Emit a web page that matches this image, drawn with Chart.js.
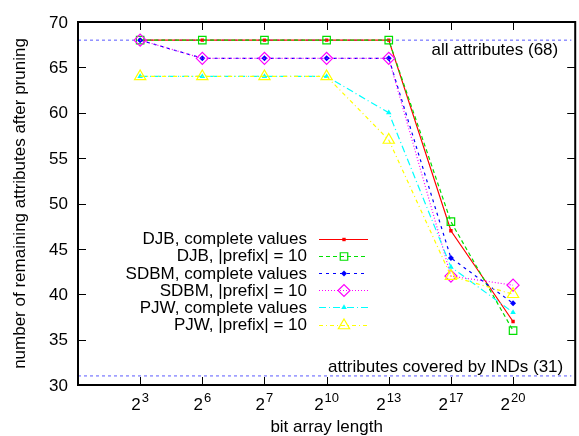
<!DOCTYPE html>
<html>
<head>
<meta charset="utf-8">
<script src="https://cdn.jsdelivr.net/npm/chart.js@4.4.0/dist/chart.umd.min.js"></script>
<style>
  html, body { margin: 0; padding: 0; background: #fff; overflow: hidden; }
  #wrap { width: 579px; height: 436px; }
</style>
</head>
<body>
<div id="wrap"><canvas id="chart" width="579" height="436"></canvas></div>
<script>
// bit array lengths (powers of two) and y ticks
const exponents = ['3', '6', '7', '10', '13', '17', '20'];
const yTicks = [30, 35, 40, 45, 50, 55, 60, 65, 70];

// remaining attributes after pruning, per hash function
const djbFull    = [68, 68, 68, 68, 68, 47, 37];
const djbPrefix  = [68, 68, 68, 68, 68, 48, 36];
const sdbmFull   = [68, 66, 66, 66, 66, 44, 39];
const sdbmPrefix = [68, 66, 66, 66, 66, 42, 41];
const pjwFull    = [64, 64, 64, 64, 60, 43, 38];
const pjwPrefix  = [64, 64, 64, 64, 57, 42, 40];

// reference levels
const allAttributes = 68;
const coveredByINDs = 31;

// x range is 0..8; the right part of the frame falls off the canvas
const X_MAX = 8;
const X_VISIBLE = 7.937;

const FONT = '"Liberation Sans", Arial, Helvetica, sans-serif';

const series = [
  { label: 'DJB, complete values',  data: djbFull,    color: '#ff0000', dash: [],           style: 'rect',     r: 2.4, filled: true },
  { label: 'DJB, |prefix| = 10',    data: djbPrefix,  color: '#00e000', dash: [4, 3],       style: 'rect',     r: 5.3, filled: false },
  { label: 'SDBM, complete values', data: sdbmFull,   color: '#0000ff', dash: [3, 4],       style: 'rectRot',  r: 3,   filled: true },
  { label: 'SDBM, |prefix| = 10',   data: sdbmPrefix, color: '#ff00ff', dash: [1, 2],       style: 'rectRot',  r: 6,   filled: false },
  { label: 'PJW, complete values',  data: pjwFull,    color: '#00ffff', dash: [7, 3, 1, 3], style: 'triangle', r: 3.2, filled: true },
  { label: 'PJW, |prefix| = 10',    data: pjwPrefix,  color: '#ffff00', dash: [4, 3, 1, 3], style: 'triangle', r: 6.5, filled: false },
];

const datasets = series.map((s, i) => ({
  label: s.label,
  data: s.data.map((v, j) => ({ x: j + 1, y: v })),
  borderColor: s.color,
  backgroundColor: s.filled ? s.color : 'rgba(0,0,0,0)',
  borderWidth: 1.2,
  borderDash: s.dash,
  pointStyle: s.style,
  pointRadius: s.r,
  pointBorderColor: s.color,
  pointBackgroundColor: s.filled ? s.color : 'rgba(0,0,0,0)',
  pointBorderWidth: s.filled ? 0 : 1.2,
  tension: 0,
  fill: false,
  order: 10 - i, // later series drawn on top
}));

// horizontal reference lines across the whole x range
[allAttributes, coveredByINDs].forEach(level => {
  datasets.push({
    label: 'level ' + level,
    data: [{ x: 0, y: level }, { x: X_MAX, y: level }],
    borderColor: '#5a5aff',
    borderWidth: 1,
    borderDash: [3, 3],
    pointRadius: 0,
    fill: false,
    order: 20,
  });
});

function marker(ctx, s, x, y) {
  ctx.setLineDash([]);
  ctx.strokeStyle = s.color;
  ctx.fillStyle = s.filled ? s.color : 'rgba(0,0,0,0)';
  ctx.lineWidth = s.filled ? 0 : 1.2;
  Chart.helpers.drawPoint(ctx, {
    pointStyle: s.style, radius: s.r, rotation: 0, borderWidth: s.filled ? 0 : 1.2,
  }, x, y);
}

// gnuplot-style border, inward ticks, labels and key
const gnuAxes = {
  id: 'gnuAxes',
  afterDraw(chart) {
    const { ctx, chartArea: a, scales: { x, y } } = chart;
    const right = x.getPixelForValue(X_MAX);
    const midX = (a.left + right) / 2;
    ctx.save();
    ctx.strokeStyle = '#000';
    ctx.lineWidth = 1;
    ctx.beginPath();
    yTicks.forEach(v => {
      const py = Math.round(y.getPixelForValue(v)) + 0.5;
      ctx.moveTo(a.left, py); ctx.lineTo(a.left + 8, py);
      ctx.moveTo(right, py); ctx.lineTo(right - 8, py);
    });
    exponents.forEach((e, i) => {
      const px = Math.round(x.getPixelForValue(i + 1)) + 0.5;
      ctx.moveTo(px, a.bottom); ctx.lineTo(px, a.bottom - 8);
      ctx.moveTo(px, a.top); ctx.lineTo(px, a.top + 8);
    });
    ctx.stroke();
    ctx.lineWidth = 2;
    ctx.strokeRect(a.left, a.top, right - a.left, a.bottom - a.top);

    ctx.fillStyle = '#000';
    ctx.font = '17px ' + FONT;
    ctx.textAlign = 'right';
    ctx.textBaseline = 'middle';
    yTicks.forEach(v => ctx.fillText(String(v), a.left - 10, y.getPixelForValue(v) + 1));

    // 2^n tick labels
    ctx.textAlign = 'left';
    ctx.textBaseline = 'alphabetic';
    exponents.forEach((e, i) => {
      const px = x.getPixelForValue(i + 1);
      ctx.font = '17px ' + FONT;
      const wb = ctx.measureText('2').width;
      ctx.font = '13px ' + FONT;
      const we = ctx.measureText(e).width;
      const x0 = px - (wb + 1 + we) / 2;
      ctx.font = '17px ' + FONT;
      ctx.fillText('2', x0, a.bottom + 25);
      ctx.font = '13px ' + FONT;
      ctx.fillText(e, x0 + wb + 1, a.bottom + 17);
    });

    ctx.font = '17px ' + FONT;
    ctx.textAlign = 'center';
    ctx.fillText('bit array length', midX, a.bottom + 47);

    ctx.save();
    ctx.translate(25, (a.top + a.bottom) / 2);
    ctx.rotate(-Math.PI / 2);
    ctx.fillText('number of remaining attributes after pruning', 0, 0);
    ctx.restore();

    ctx.textAlign = 'right';
    ctx.fillText('all attributes (' + allAttributes + ')', right - 17, y.getPixelForValue(allAttributes) + 14.5);
    ctx.fillText('attributes covered by INDs (' + coveredByINDs + ')', right - 12, y.getPixelForValue(coveredByINDs) - 3.5);

    // key
    series.forEach((s, i) => {
      const cy = 238.5 + i * 17.2;
      ctx.fillStyle = '#000';
      ctx.textBaseline = 'middle';
      ctx.fillText(s.label, 307, cy + 1);
      ctx.strokeStyle = s.color;
      ctx.lineWidth = 1.2;
      ctx.setLineDash(s.dash);
      ctx.beginPath();
      ctx.moveTo(319, Math.round(cy) + 0.5);
      ctx.lineTo(368, Math.round(cy) + 0.5);
      ctx.stroke();
      marker(ctx, s, 344, Math.round(cy) + 0.5);
    });
    ctx.restore();
  }
};

new Chart(document.getElementById('chart').getContext('2d'), {
  type: 'line',
  data: { datasets },
  options: {
    responsive: false,
    animation: false,
    devicePixelRatio: 1,
    layout: { padding: { left: 78, top: 22, right: 0, bottom: 51 } },
    scales: {
      x: { type: 'linear', display: false, min: 0, max: X_VISIBLE },
      y: { type: 'linear', display: false, min: 30, max: 70 },
    },
    plugins: { legend: { display: false }, tooltip: { enabled: false } },
  },
  plugins: [gnuAxes],
});
</script>
</body>
</html>
